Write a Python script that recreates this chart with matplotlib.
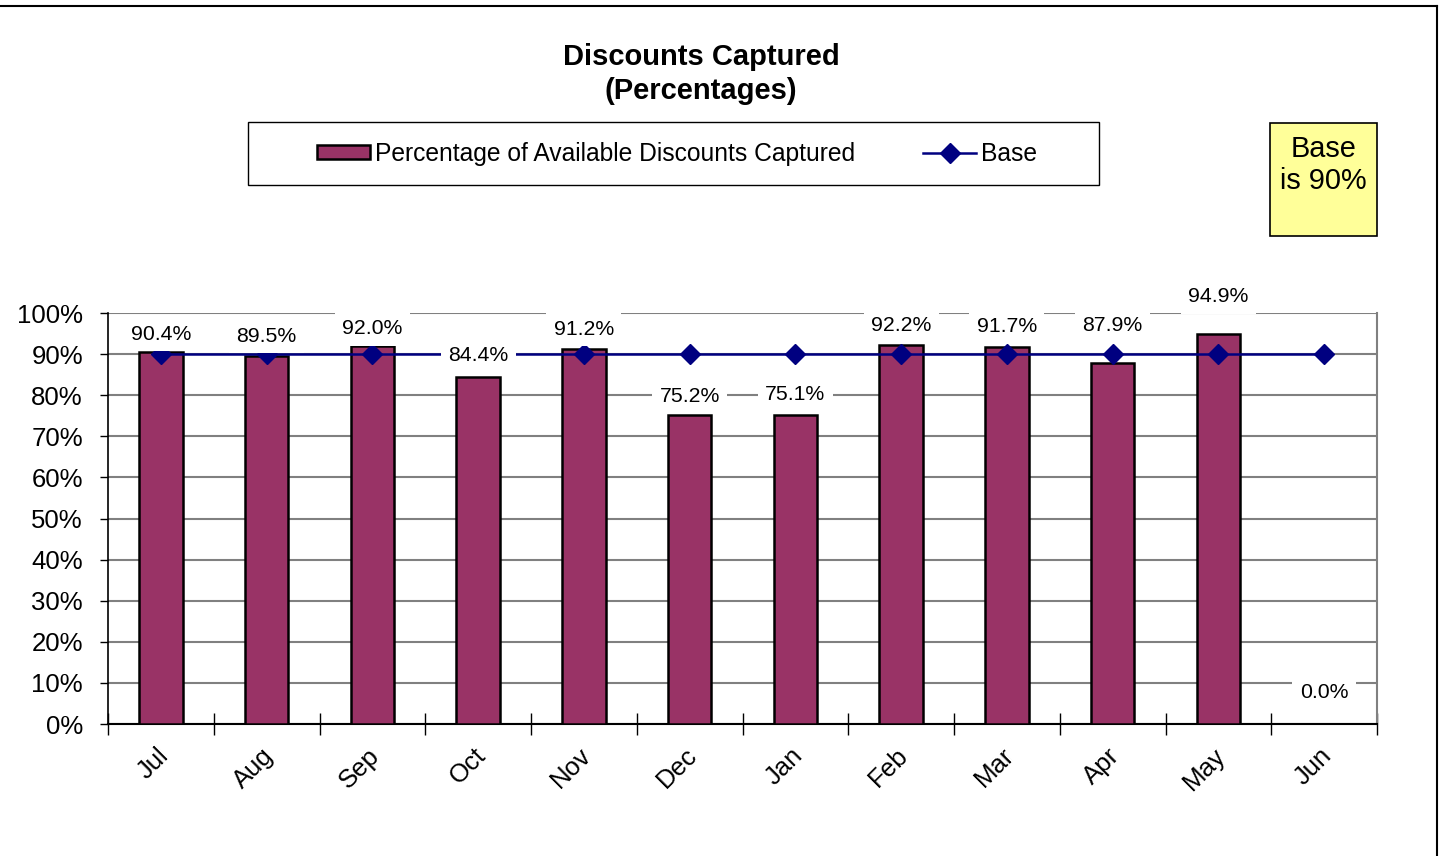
import matplotlib
matplotlib.use("Agg")
import matplotlib.pyplot as plt
import matplotlib.transforms as mtransforms
from matplotlib.patches import Rectangle
from matplotlib.lines import Line2D
import numpy as np

months = ['Jul', 'Aug', 'Sep', 'Oct', 'Nov', 'Dec', 'Jan', 'Feb', 'Mar', 'Apr', 'May', 'Jun']
captured = [90.4, 89.5, 92.0, 84.4, 91.2, 75.2, 75.1, 92.2, 91.7, 87.9, 94.9, 0.0]
base = [90, 90, 90, 90, 90, 90, 90, 90, 90, 90, 90, 90]
yticks = [0, 10, 20, 30, 40, 50, 60, 70, 80, 90, 100]

# how far above the bar top each label sits (pixels), Excel nudges a few of them
label_dy = [18, 20, 17, 22, 20, 18, 21, 20, 21, 37, 37, 32]

plt.rcParams['font.family'] = ['Liberation Sans', 'DejaVu Sans']

W, H = 1443, 856
fig = plt.figure(figsize=(W / 100, H / 100), dpi=100)
ax = fig.add_axes([108 / W, 1 - 724 / H, (1377 - 108) / W, (724 - 313) / H])

x = np.arange(len(months))
bars = ax.bar(x, captured, width=0.41, color='#993366', edgecolor='black', linewidth=1.8, zorder=3,
              label='Percentage of Available Discounts Captured')
line, = ax.plot(x, base, color='#000080', lw=1.8, marker='D', markersize=10, zorder=4, label='Base')

for xi, v, dy in zip(x, captured, label_dy):
    ax.annotate(f'{v:.1f}%', (xi, v), xytext=(0, dy * 0.72), textcoords='offset points',
                ha='center', va='center', fontsize=15.3, zorder=6, annotation_clip=False,
                bbox=dict(boxstyle='square,pad=0.35', fc='white', ec='none'))

ax.set_xlim(-0.5, len(months) - 0.5)
ax.set_ylim(0, 100)
ax.set_yticks(yticks)
ax.set_yticklabels([f'{t}%' for t in yticks], fontsize=18.5)
ax.tick_params(axis='y', length=6, width=1, pad=12, color='black')
ax.yaxis.grid(True, color='#808080', lw=1.5, zorder=0)

ax.set_xticks(x)
ax.set_xticklabels(months, fontsize=18.5, rotation=45, ha='right', rotation_mode='anchor')
ax.tick_params(axis='x', which='major', length=0, pad=14)
ax.set_xticks(np.arange(len(months) + 1) - 0.5, minor=True)
ax.tick_params(axis='x', which='minor', direction='inout', length=16, width=1, color='black')
shift = mtransforms.ScaledTranslation(-5 / 100, 0, fig.dpi_scale_trans)
for lab in ax.get_xticklabels():
    lab.set_transform(lab.get_transform() + shift)

ax.spines['top'].set_visible(False)
ax.spines['right'].set_color('#808080')
ax.spines['right'].set_linewidth(1.5)
ax.spines['left'].set_color('black')
ax.spines['bottom'].set_color('black')
ax.spines['left'].set_linewidth(1.2)
ax.spines['bottom'].set_linewidth(1.5)

fig.text(701 / W, 1 - 74 / H, 'Discounts Captured\n(Percentages)', ha='center', va='center',
         fontsize=21, fontweight='bold', linespacing=1.25)

# legend box
fig.patches.append(Rectangle((248 / W, 1 - 185 / H), 851 / W, 63 / H, transform=fig.transFigure,
                             fc='white', ec='black', lw=1))
fig.legend([bars, line], [bars.get_label(), line.get_label()],
           loc='center', bbox_to_anchor=(677 / W, 1 - 153.5 / H), ncol=2, frameon=False,
           fontsize=17.7, handlelength=2.15, handletextpad=0.2, columnspacing=2.8, handleheight=0.5)

# yellow note
fig.patches.append(Rectangle((1270 / W, 1 - 236 / H), 107 / W, 113 / H, transform=fig.transFigure,
                             fc='#FFFF99', ec='black', lw=1.2))
fig.text(1323.5 / W, 1 - 165 / H, 'Base\nis 90%', ha='center', va='center', fontsize=20.8, linespacing=1.2)

# chart border (partially outside picture)
fig.add_artist(Line2D([0, 1437 / W], [1 - 6 / H, 1 - 6 / H], transform=fig.transFigure, color='black', lw=1.5))
fig.add_artist(Line2D([1437 / W, 1437 / W], [1 - 6 / H, 0], transform=fig.transFigure, color='black', lw=1.5))

fig.savefig('out.png', dpi=100)
